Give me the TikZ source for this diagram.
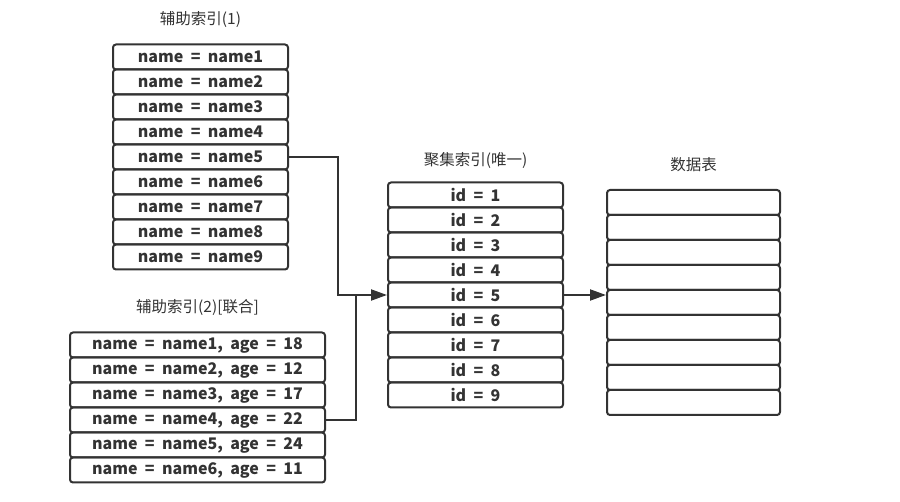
\documentclass[tikz,border=0pt]{standalone}
\usepackage{fontspec}
\setmainfont[WordSpace=2]{Noto Sans CJK SC}
\usetikzlibrary{arrows.meta, positioning}

\begin{document}
\begin{tikzpicture}[
  x=1pt, y=-1pt,
  row/.style={draw=black!80, line width=2pt, rounded corners=3pt,
              minimum height=25pt, inner sep=0pt, text=black!80,
              font=\bfseries\fontsize{16}{18}\selectfont},
  title/.style={font=\fontsize{15.5}{18}\selectfont, text=black!80},
  arr/.style={-{Triangle[length=16pt,width=11pt]}, line width=2pt, draw=black!80},
  link/.style={line width=2pt, draw=black!80},
]
\useasboundingbox (0,0) rectangle (900,502);

% secondary index (1)
\node[title] (tsa) at (200.5,20) {辅助索引(1)};
\foreach \i in {1,...,9}
  \node[row, minimum width=175pt] (sa\i) at (200.5,32+25*\i) {name = name\i};

% secondary index (2), composite
\node[title] (tsb) at (197.5,307) {辅助索引(2)[联合]};
\foreach \i/\a in {1/18,2/12,3/17,4/22,5/24,6/11}
  \node[row, minimum width=255pt] (sb\i) at (197.5,320+25*\i) {name = name\i, age = \a};

% clustered index
\node[title] (tci) at (475.5,160) {聚集索引(唯一)};
\foreach \i in {1,...,9}
  \node[row, minimum width=175pt] (ci\i) at (475.5,170+25*\i) {id = \i};

% data table
\node[title] (tdt) at (693.5,165) {数据表};
\foreach \i in {1,...,9}
  \node[row, minimum width=173pt] (dt\i) at (693.5,177.5+25*\i) {};

% lookups
\coordinate (j1) at (338,295);
\coordinate (j2) at (356,295);
\draw[arr] (sa5.east) -| (j1) -- (ci5.west);
\draw[link] (sb4.east) -| (j2);
\draw[arr] (ci5.east) -- (ci5.east -| dt5.west);
\end{tikzpicture}
\end{document}
